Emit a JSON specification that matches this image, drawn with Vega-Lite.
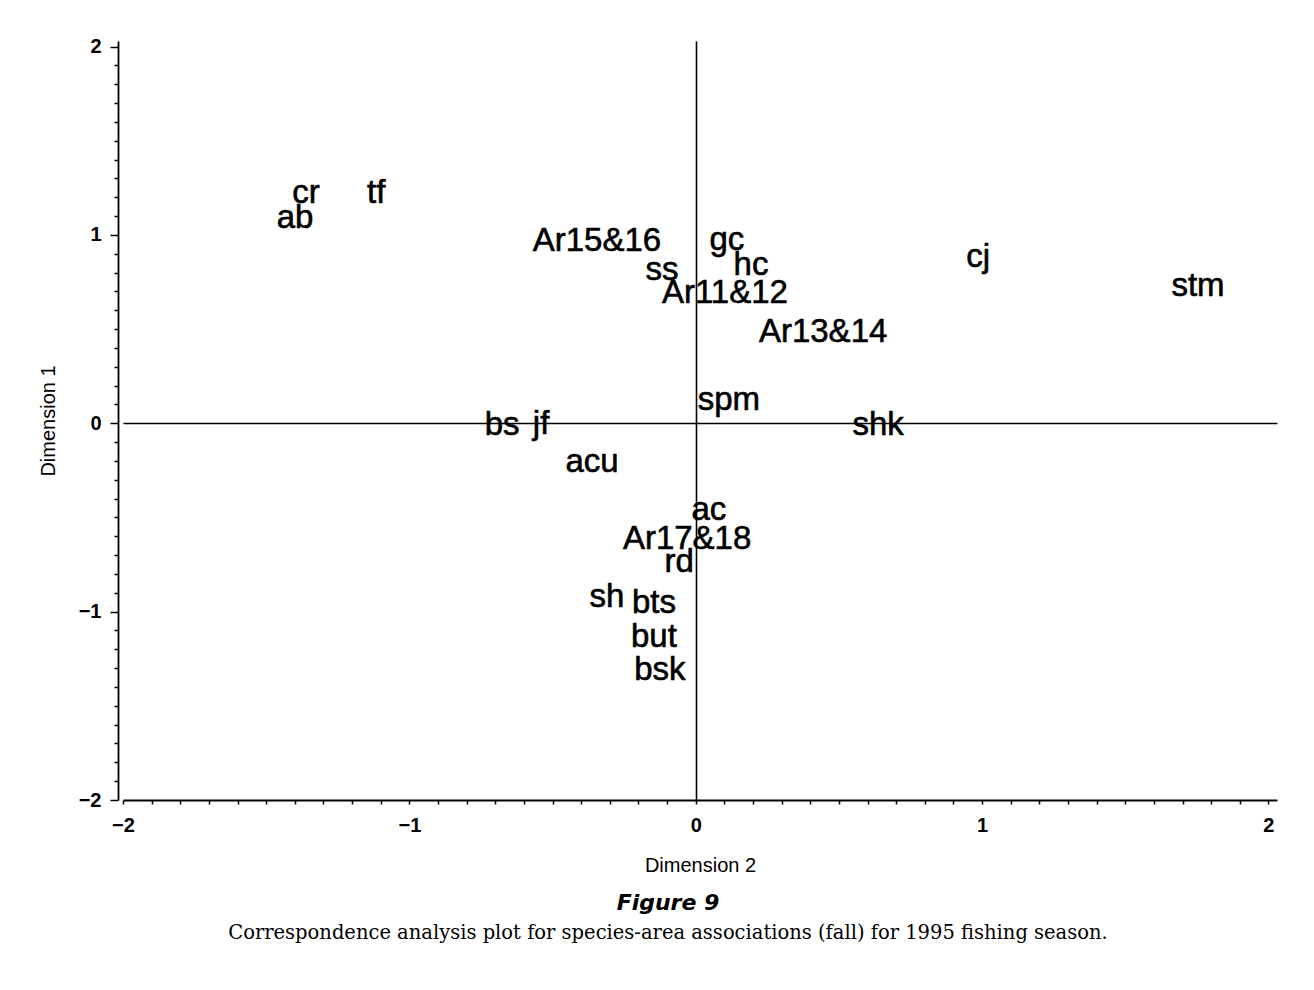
{
  "$schema": "https://vega.github.io/schema/vega-lite/v6.json",
  "width": 1154,
  "height": 759,
  "autosize": {"type": "none"},
  "padding": {"left": 123, "top": 41, "right": 37, "bottom": 190},
  "background": "white",
  "config": {"view": {"stroke": null}, "font": "Liberation Sans"},
  "title": {
    "text": "Figure 9",
    "subtitle": "Correspondence analysis plot for species-area associations (fall) for 1995 fishing season.",
    "orient": "bottom",
    "anchor": "middle",
    "dx": -32,
    "offset": 18,
    "font": "DejaVu Sans",
    "fontSize": 22,
    "fontWeight": "bold",
    "fontStyle": "italic",
    "color": "black",
    "subtitleFont": "DejaVu Serif",
    "subtitleFontSize": 19.5,
    "subtitleColor": "black",
    "subtitlePadding": 9
  },
  "data": {
    "values": [
      {"label": "cr", "dim2": -1.361, "dim1": 1.223},
      {"label": "ab", "dim2": -1.399, "dim1": 1.090},
      {"label": "tf", "dim2": -1.116, "dim1": 1.223},
      {"label": "Ar15&16", "dim2": -0.345, "dim1": 0.968},
      {"label": "gc", "dim2": 0.109, "dim1": 0.973},
      {"label": "ss", "dim2": -0.118, "dim1": 0.814},
      {"label": "hc", "dim2": 0.193, "dim1": 0.841},
      {"label": "Ar11&12", "dim2": 0.102, "dim1": 0.692},
      {"label": "Ar13&14", "dim2": 0.445, "dim1": 0.485},
      {"label": "spm", "dim2": 0.116, "dim1": 0.124},
      {"label": "bs", "dim2": -0.676, "dim1": -0.009},
      {"label": "jf", "dim2": -0.540, "dim1": -0.004},
      {"label": "shk", "dim2": 0.637, "dim1": -0.009},
      {"label": "acu", "dim2": -0.362, "dim1": -0.205},
      {"label": "ac", "dim2": 0.046, "dim1": -0.460},
      {"label": "Ar17&18", "dim2": -0.030, "dim1": -0.614},
      {"label": "rd", "dim2": -0.058, "dim1": -0.736},
      {"label": "sh", "dim2": -0.310, "dim1": -0.922},
      {"label": "bts", "dim2": -0.146, "dim1": -0.954},
      {"label": "but", "dim2": -0.146, "dim1": -1.134},
      {"label": "bsk", "dim2": -0.125, "dim1": -1.310},
      {"label": "cj", "dim2": 0.986, "dim1": 0.883},
      {"label": "stm", "dim2": 1.754, "dim1": 0.729}
    ]
  },
  "mark": {"type": "text", "font": "Liberation Sans", "fontSize": 33, "color": "black", "stroke": "black", "strokeWidth": 0.6, "align": "center", "baseline": "middle"},
  "encoding": {
    "text": {"field": "label", "type": "nominal"},
    "x": {
      "field": "dim2", "type": "quantitative",
      "scale": {"domain": [-2, 2.03], "nice": false, "zero": false},
      "axis": {
        "title": "Dimension 2",
        "values": [-2, -1.9, -1.8, -1.7, -1.6, -1.5, -1.4, -1.3, -1.2, -1.1, -1, -0.9, -0.8, -0.7, -0.6, -0.5, -0.4, -0.3, -0.2, -0.1, 0, 0.1, 0.2, 0.3, 0.4, 0.5, 0.6, 0.7, 0.8, 0.9, 1, 1.1, 1.2, 1.3, 1.4, 1.5, 1.6, 1.7, 1.8, 1.9, 2],
        "tickCount": 100,
        "labelExpr": "datum.value % 1 === 0 ? format(datum.value, 'd') : ''",
        "grid": true,
        "gridColor": "black",
        "gridWidth": 1.6,
        "gridOpacity": {"condition": {"test": "datum.value === 0", "value": 1}, "value": 0},
        "labelFlush": false,
        "labelOverlap": false,
        "labelFont": "Liberation Sans",
        "labelFontSize": 20,
        "labelFontWeight": "bold",
        "labelColor": "black",
        "labelPadding": 11,
        "tickSize": 4,
        "tickColor": "black",
        "tickWidth": 1.5,
        "domainColor": "black",
        "domainWidth": 1.8,
        "titleFont": "Liberation Sans",
        "titleFontSize": 20,
        "titleFontWeight": "normal",
        "titleColor": "black",
        "titlePadding": 20
      }
    },
    "y": {
      "field": "dim1", "type": "quantitative",
      "scale": {"domain": [-2, 2.03], "nice": false, "zero": false},
      "axis": {
        "title": "Dimension 1",
        "offset": 5,
        "values": [-2, -1.9, -1.8, -1.7, -1.6, -1.5, -1.4, -1.3, -1.2, -1.1, -1, -0.9, -0.8, -0.7, -0.6, -0.5, -0.4, -0.3, -0.2, -0.1, 0, 0.1, 0.2, 0.3, 0.4, 0.5, 0.6, 0.7, 0.8, 0.9, 1, 1.1, 1.2, 1.3, 1.4, 1.5, 1.6, 1.7, 1.8, 1.9, 2],
        "tickCount": 100,
        "labelExpr": "datum.value % 1 === 0 ? format(datum.value, 'd') : ''",
        "grid": true,
        "gridColor": "black",
        "gridWidth": 1.6,
        "gridOpacity": {"condition": {"test": "datum.value === 0", "value": 1}, "value": 0},
        "labelFlush": false,
        "labelOverlap": false,
        "labelFont": "Liberation Sans",
        "labelFontSize": 20,
        "labelFontWeight": "bold",
        "labelColor": "black",
        "labelPadding": 9,
        "tickSize": {"condition": {"test": "datum.value % 1 === 0", "value": 8}, "value": 4},
        "tickColor": "black",
        "tickWidth": 1.5,
        "domainColor": "black",
        "domainWidth": 1.8,
        "titleFont": "Liberation Sans",
        "titleFontSize": 20,
        "titleFontWeight": "normal",
        "titleColor": "black",
        "titlePadding": 20
      }
    }
  }
}
